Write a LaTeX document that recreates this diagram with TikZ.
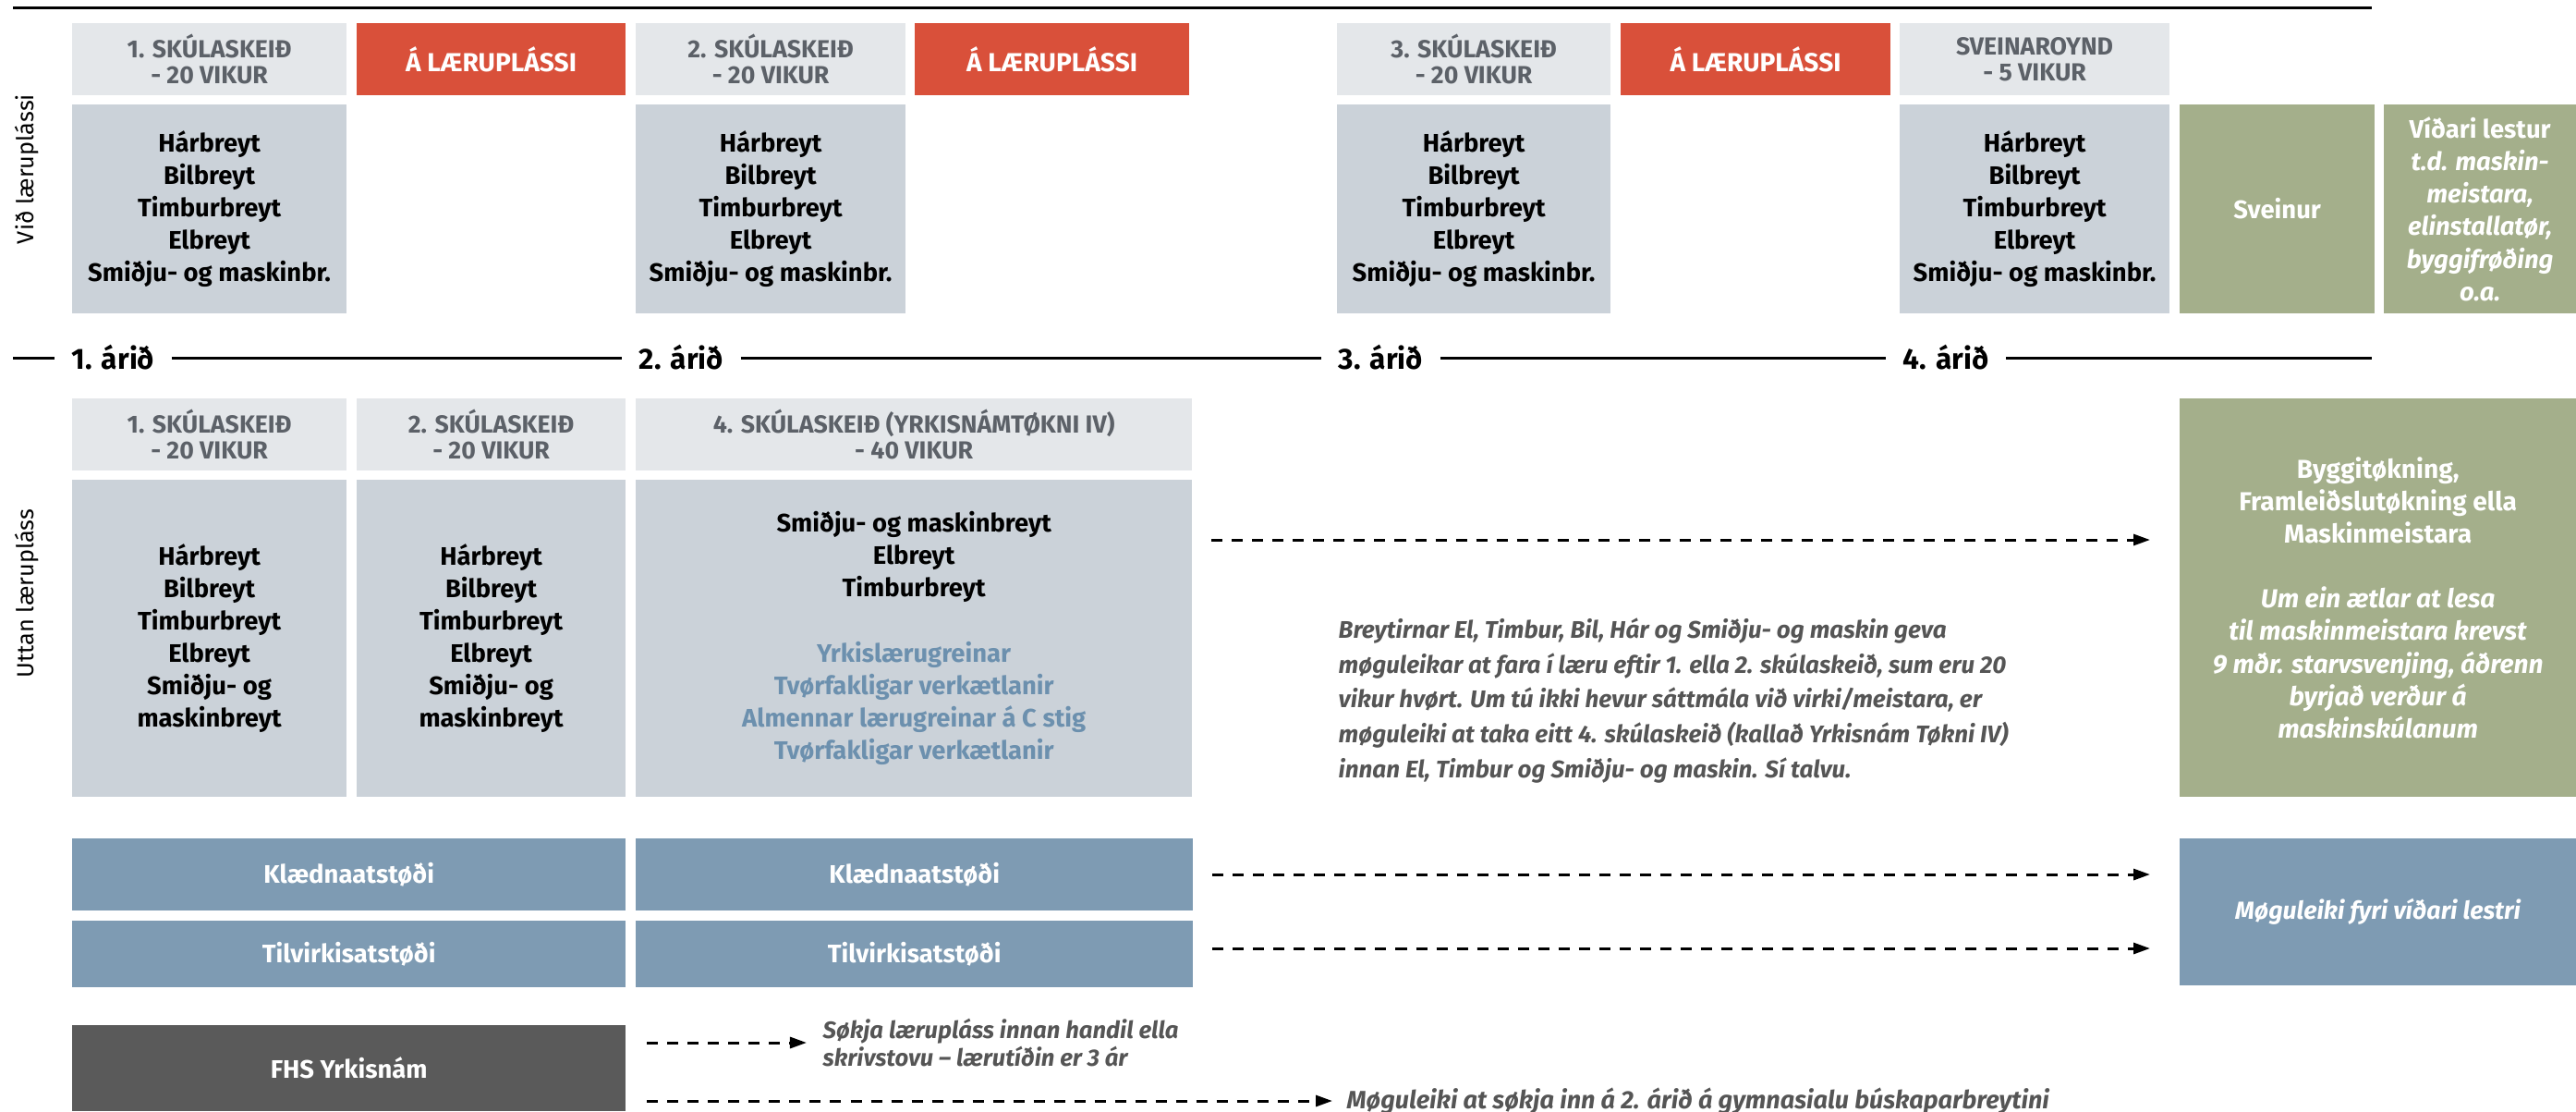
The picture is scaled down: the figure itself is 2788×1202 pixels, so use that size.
\documentclass[tikz,border=0pt]{standalone}
\usepackage{fontspec}
\setmainfont{Fira Sans}
\usetikzlibrary{arrows.meta}
\definecolor{headgrey}{HTML}{E4E7EA}
\definecolor{headtext}{HTML}{5C6168}
\definecolor{bodygrey}{HTML}{CBD2D9}
\definecolor{placered}{HTML}{D9503A}
\definecolor{leafgreen}{HTML}{A4AF8B}
\definecolor{slateblue}{HTML}{7E9BB3}
\definecolor{darkbar}{HTML}{5A5A5A}
\definecolor{bluetext}{HTML}{6C90AE}
\definecolor{notegrey}{HTML}{555555}
\newcommand\tradelist{Hárbreyt\\Bilbreyt\\Timburbreyt\\Elbreyt\\Smiðju- og maskinbr.}
\tikzset{
  cell/.style={anchor=north west,inner sep=0pt,outer sep=0pt,align=center,
    font=\bfseries\fontsize{7.8}{10}\selectfont},
  headcell/.style={cell,fill=headgrey,text=headtext,minimum height=0.78cm,
    font=\bfseries\fontsize{7.6}{8}\selectfont},
  placecell/.style={cell,fill=placered,text=white,minimum height=0.78cm,
    font=\bfseries\fontsize{8}{9}\selectfont},
  bodycell/.style={cell,fill=bodygrey,text=black},
  greencell/.style={cell,fill=leafgreen,text=white},
  barcell/.style={cell,fill=slateblue,text=white},
  notetext/.style={inner sep=0pt,align=left,text=notegrey,
    font=\bfseries\itshape\fontsize{7.4}{10.8}\selectfont},
  ruleline/.style={line width=0.85pt},
  flow/.style={line width=0.85pt,dash pattern=on 1.2mm off 1mm,
    -{Triangle[length=1.8mm,width=1.2mm]}},
  yearmark/.style={anchor=west,inner xsep=1.8mm,inner ysep=0pt,
    font=\bfseries\fontsize{9}{10}\selectfont},
  sidelabel/.style={rotate=90,inner sep=0pt,font=\fontsize{7.2}{8}\selectfont}
}

\begin{document}
\begin{tikzpicture}[x=0.01cm,y=-0.01cm] % one unit = one pixel of the chart
\useasboundingbox (0,0) rectangle (2788,1202);

\draw[ruleline] (14,8.5) -- (2567,8.5);

% --- with an apprenticeship
\node[sidelabel] (sideA) at (29,183) {Við læruplássi};
\node[headcell,minimum width=2.97cm] (hA1) at (78,25) {1. SKÚLASKEIÐ\\- 20 VIKUR};
\node[placecell,minimum width=2.91cm] (pA1) at (386,25) {Á LÆRUPLÁSSI};
\node[headcell,minimum width=2.92cm] (hA2) at (688,25) {2. SKÚLASKEIÐ\\- 20 VIKUR};
\node[placecell,minimum width=2.97cm] (pA2) at (990,25) {Á LÆRUPLÁSSI};
\node[headcell,minimum width=2.96cm] (hA3) at (1447,25) {3. SKÚLASKEIÐ\\- 20 VIKUR};
\node[placecell,minimum width=2.92cm] (pA3) at (1754,25) {Á LÆRUPLÁSSI};
\node[headcell,minimum width=2.92cm] (hA4) at (2056,25) {SVEINAROYND\\- 5 VIKUR};

\foreach \x/\w/\n in {78/2.97/1,688/2.92/2,1447/2.96/3,2056/2.92/4}
  \node[bodycell,minimum width=\w cm,minimum height=2.26cm] (bA\n) at (\x,113) {\tradelist};
\node[greencell,minimum width=2.11cm,minimum height=2.26cm] (sveinur) at (2359,113) {Sveinur};
\node[greencell,minimum width=2.08cm,minimum height=2.26cm] (vidari) at (2580,113)
  {Víðari lestur\\\textit{t.d. maskin-}\\\textit{meistara,}\\\textit{elinstallatør,}\\\textit{byggifrøðing}\\\textit{o.a.}};

% --- the years
\node[yearmark] (yr1) at (59,387) {1. árið};
\node[yearmark] (yr2) at (673,387) {2. árið};
\node[yearmark] (yr3) at (1430,387) {3. árið};
\node[yearmark] (yr4) at (2041,387) {4. árið};
\draw[ruleline] (14,387) -- (yr1) (yr1) -- (yr2) (yr2) -- (yr3) (yr3) -- (yr4) (yr4) -- (2567,387);

% --- without an apprenticeship
\node[sidelabel] (sideB) at (29,642) {Uttan lærupláss};
\node[headcell,minimum width=2.97cm] (hB1) at (78,431) {1. SKÚLASKEIÐ\\- 20 VIKUR};
\node[headcell,minimum width=2.91cm] (hB2) at (386,431) {2. SKÚLASKEIÐ\\- 20 VIKUR};
\node[headcell,minimum width=6.02cm] (hB4) at (688,431) {4. SKÚLASKEIÐ (YRKISNÁMTØKNI IV)\\- 40 VIKUR};
\node[bodycell,minimum width=2.97cm,minimum height=3.43cm] (bB1) at (78,519)
  {Hárbreyt\\Bilbreyt\\Timburbreyt\\Elbreyt\\Smiðju- og\\maskinbreyt};
\node[bodycell,minimum width=2.91cm,minimum height=3.43cm] (bB2) at (386,519)
  {Hárbreyt\\Bilbreyt\\Timburbreyt\\Elbreyt\\Smiðju- og\\maskinbreyt};
\node[bodycell,minimum width=6.02cm,minimum height=3.43cm] (bB4) at (688,519)
  {Smiðju- og maskinbreyt\\Elbreyt\\Timburbreyt\\[10pt]
   \textcolor{bluetext}{Yrkislærugreinar}\\\textcolor{bluetext}{Tvørfakligar verkætlanir}\\
   \textcolor{bluetext}{Almennar lærugreinar á C stig}\\\textcolor{bluetext}{Tvørfakligar verkætlanir}};
\node[greencell,minimum width=4.29cm,minimum height=4.31cm,font=\bfseries\fontsize{8}{10}\selectfont] (bygg) at (2359,431)
  {Byggitøkning,\\Framleiðslutøkning ella\\Maskinmeistara\\[10pt]
   \textit{Um ein ætlar at lesa}\\\textit{til maskinmeistara krevst}\\
   \textit{9 mðr. starvsvenjing, áðrenn}\\\textit{byrjað verður á}\\\textit{maskinskúlanum}};
\node[notetext,anchor=west] (remark) at (1448,758)
  {Breytirnar El, Timbur, Bil, Hár og Smiðju- og maskin geva\\
   møguleikar at fara í læru eftir 1. ella 2. skúlaskeið, sum eru 20\\
   vikur hvørt. Um tú ikki hevur sáttmála við virki/meistara, er\\
   møguleiki at taka eitt 4. skúlaskeið (kallað Yrkisnám Tøkni IV)\\
   innan El, Timbur og Smiðju- og maskin. Sí talvu.};
\draw[flow,shorten <=2.1mm,shorten >=3.2mm] (bB4.east |- 0,584) -- (bygg.west |- 0,584);

% --- support years
\node[barcell,minimum width=5.99cm,minimum height=0.78cm] (kA) at (78,907) {Klædnaatstøði};
\node[barcell,minimum width=6.03cm,minimum height=0.78cm] (kB) at (688,907) {Klædnaatstøði};
\node[barcell,minimum width=5.99cm,minimum height=0.72cm] (tA) at (78,996) {Tilvirkisatstøði};
\node[barcell,minimum width=6.03cm,minimum height=0.72cm] (tB) at (688,996) {Tilvirkisatstøði};
\node[barcell,minimum width=4.29cm,minimum height=1.59cm,
  font=\bfseries\itshape\fontsize{7.6}{9}\selectfont] (further) at (2359,907) {Møguleiki fyri víðari lestri};
\draw[flow,shorten <=2.1mm,shorten >=3.2mm] (kB.east) -- (kB.east -| further.west);
\draw[flow,shorten <=2.1mm,shorten >=3.2mm] (tB.east |- 0,1026) -- (further.west |- 0,1026);

% --- FHS
\node[cell,fill=darkbar,text=white,minimum width=5.99cm,minimum height=0.93cm] (fhs) at (78,1109) {FHS Yrkisnám};
\node[notetext,anchor=west,font=\bfseries\itshape\fontsize{7.3}{8.8}\selectfont] (sokja) at (890,1128)
  {Søkja lærupláss innan handil ella\\skrivstovu – lærutíðin er 3 ár};
\node[notetext,anchor=west,font=\bfseries\itshape\fontsize{7.7}{9}\selectfont] (gymn) at (1457,1191)
  {Møguleiki at søkja inn á 2. árið á gymnasialu búskaparbreytini};
\draw[flow,shorten <=2.3mm,shorten >=1.7mm] (fhs.east |- 0,1128) -- (sokja.west);
\draw[flow,shorten <=2.3mm,shorten >=1.5mm] (fhs.east |- 0,1191) -- (gymn.west);

\end{tikzpicture}
\end{document}
